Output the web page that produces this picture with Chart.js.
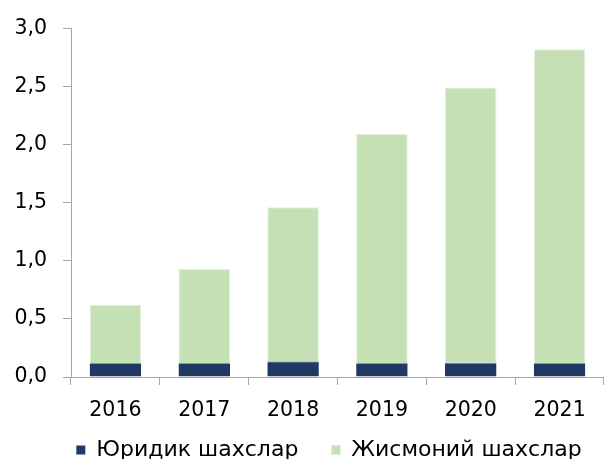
<!DOCTYPE html>
<html>
<head>
<meta charset="utf-8">
<script src="https://cdn.jsdelivr.net/npm/chart.js@4"></script>
<style>
  html, body { margin: 0; padding: 0; background: #fff; overflow: hidden; }
  #wrap { width: 604px; height: 459px; }
</style>
</head>
<body>
<div id="wrap"><canvas id="chart"></canvas></div>
<script>
const years = ['2016', '2017', '2018', '2019', '2020', '2021'];
const legalEntities = [0.12, 0.12, 0.135, 0.12, 0.125, 0.12];
const individuals = [0.50, 0.81, 1.325, 1.97, 2.365, 2.70];
const yTicks = [0, 0.5, 1.0, 1.5, 2.0, 2.5, 3.0];

const FONT = "'DejaVu Sans', sans-serif";
const axisGrey = '#a6a6a6';

// legend sits partly under the x labels in the original, nudge it there
const legendShift = {
    id: 'legendShift',
    afterLayout(chart) {
        const lg = chart.legend;
        lg.top = 406;
        lg.left += 27;
        lg.right += 27;
    }
};

new Chart(document.getElementById('chart'), {
    type: 'bar',
    data: {
        labels: years,
        datasets: [{
            label: 'Юридик шахслар',
            data: legalEntities,
            backgroundColor: '#1f3864',
            borderColor: '#8a97b0',
            borderWidth: { top: 1 },
            barPercentage: 0.58,
            categoryPercentage: 1.0
        }, {
            label: 'Жисмоний шахслар',
            data: individuals,
            backgroundColor: '#c5e0b4',
            borderColor: '#e4f0dc',
            borderWidth: 1,
            barPercentage: 0.58,
            categoryPercentage: 1.0
        }]
    },
    plugins: [legendShift],
    options: {
        responsive: true,
        maintainAspectRatio: false,
        animation: false,
        layout: { autoPadding: false, padding: { top: 25, right: 0, left: 0, bottom: 0 } },
        plugins: {
            tooltip: { enabled: false },
            legend: {
                display: true,
                position: 'bottom',
                maxHeight: 36,
                labels: {
                    boxWidth: 9,
                    boxHeight: 9,
                    padding: 33,
                    color: '#000',
                    font: { family: FONT, size: 22 }
                }
            }
        },
        scales: {
            x: {
                stacked: true,
                afterFit: s => { s.height = 46; },
                border: { color: axisGrey, width: 1 },
                grid: { offset: true, drawOnChartArea: false, color: axisGrey, tickLength: 8 },
                ticks: { color: '#000', padding: 13, font: { family: FONT, size: 20.5 } }
            },
            y: {
                stacked: true,
                min: 0,
                max: 3,
                afterFit: s => { s.width = 71; },
                afterBuildTicks: s => { s.ticks = yTicks.map(v => ({ value: v })); },
                border: { color: axisGrey, width: 1 },
                grid: { drawOnChartArea: false, color: axisGrey, tickLength: 8 },
                ticks: {
                    color: '#000',
                    padding: 16,
                    font: { family: FONT, size: 20.5 },
                    callback: v => v.toFixed(1).replace('.', ',')
                }
            }
        }
    }
});
</script>
</body>
</html>
